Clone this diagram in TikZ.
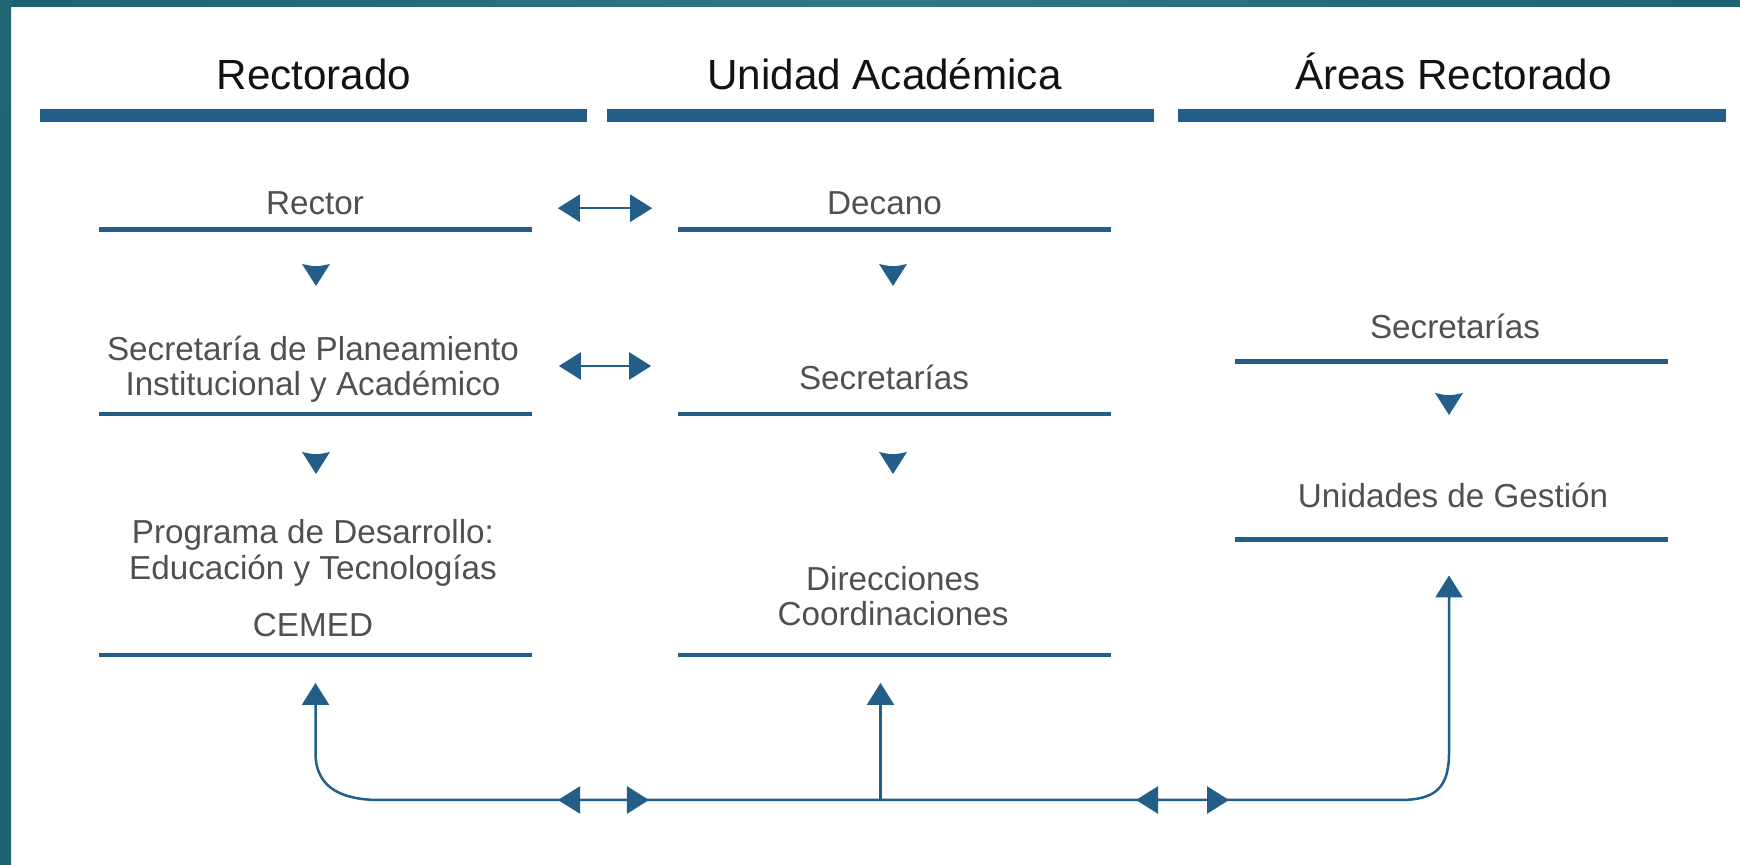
\documentclass[tikz,border=0pt]{standalone}
\usepackage{fontspec}
\setmainfont{Liberation Sans}
\usetikzlibrary{arrows.meta,calc,positioning}

\definecolor{barblue}{HTML}{225E88}
\definecolor{txtgray}{HTML}{505050}
\definecolor{framedark}{HTML}{1C6471}
\definecolor{framelight}{HTML}{327787}

\begin{document}
\begin{tikzpicture}[x=0.01cm,y=-0.01cm,
  headstyle/.style={font=\fontsize{12pt}{14pt}\selectfont,text=black!93,anchor=base,inner sep=0},
  headbar/.style={rectangle,fill=barblue,minimum height=0.13cm,inner sep=0},
  itemstyle/.style={font=\fontsize{9.45pt}{10.2pt}\selectfont,text=txtgray,align=center,anchor=base,inner sep=0},
  itembar/.style={rectangle,fill=barblue,minimum width=4.33cm,minimum height=0.045cm,inner sep=0},
  link/.style={draw=barblue,line width=0.025cm},
  twoway/.style={link,{Triangle[length=0.22cm,width=0.27cm]}-{Triangle[length=0.22cm,width=0.27cm]}},
  oneway/.style={link,-{Triangle[length=0.22cm,width=0.27cm]}}
]
\useasboundingbox (0,0) rectangle (1740,865);
\fill[white] (0,0) rectangle (1740,865);
\shade[left color=framedark,right color=framedark,middle color=framelight] (0,0) rectangle (1740,7);
\shade[top color=framedark!85!framelight,bottom color=framedark] (0,0) rectangle (11,865);

% column titles
\node[headstyle] (rectorado) at (314,90) {Rectorado};
\node[headstyle] (unidad) at (884.5,90) {Unidad Académica};
\node[headstyle] (areas) at (1453.5,90) {Áreas Rectorado};
\node[headbar,minimum width=5.47cm] (rectoradobar) at (313.5,115.5) {};
\node[headbar,minimum width=5.47cm] (unidadbar) at (880.5,115.5) {};
\node[headbar,minimum width=5.48cm] (areasbar) at (1452,115.5) {};

% Rectorado
\node[itemstyle] (rector) at (315,215) {Rector};
\node[itemstyle] (secplan) at (313,396) {Secretaría de Planeamiento\\Institucional y Académico};
\node[itemstyle] (cemed) at (313,636.7) {Programa de Desarrollo:\\Educación y Tecnologías\\[6pt]CEMED};
\node[itembar] (rectorbar) at (315.5,229.7) {};
\node[itembar] (secplanbar) at (315.5,414) {};
\node[itembar] (cemedbar) at (315.5,655) {};

% Unidad Academica
\node[itemstyle] (decano) at (884.5,215) {Decano};
\node[itemstyle] (secua) at (884,389.5) {Secretarías};
\node[itemstyle] (direc) at (893,626) {Direcciones\\Coordinaciones};
\node[itembar] (decanobar) at (894.5,229.7) {};
\node[itembar] (secuabar) at (894.5,414) {};
\node[itembar] (direcbar) at (894.5,655) {};

% Areas Rectorado
\node[itemstyle] (secar) at (1455,338.3) {Secretarías};
\node[itemstyle] (unidades) at (1453,507.3) {Unidades de Gestión};
\node[itembar] (secarbar) at (1451.5,361.7) {};
\node[itembar] (unidadesbar) at (1451.5,539.5) {};

% flechas hacia abajo
\foreach \x/\y in {316/264, 316/452, 893/264, 893/452, 1449/393}
  \fill[barblue] (\x-14,\y) .. controls (\x,\y+3) .. (\x+14,\y) -- (\x,\y+22) -- cycle;

% entre columnas
\draw[twoway] ($(rectorbar.east)+(25,-21.5)$) -- ($(decanobar.west)+(-25,-21.5)$);
\draw[twoway] ($(secplanbar.east)+(26,-48)$) -- ($(secuabar.west)+(-26,-48)$);

% conector inferior
\coordinate (leftend) at ($(cemedbar.south)+(0,25)$);
\coordinate (rightend) at ($(unidadesbar.south)+(-2.5,33)$);
\draw[twoway] (leftend) -- (315.5,753) .. controls (315.5,790) and (345,800) .. (380,800)
  -- (1400,800) .. controls (1435,800) and (1449,788) .. (1449,753) -- (rightend);
\draw[twoway] (558,800) -- (649,800);
\draw[twoway] (1136,800) -- (1229,800);
\draw[oneway] (880.5,800) -- ($(direcbar.south)+(-14,25)$);

\end{tikzpicture}
\end{document}
